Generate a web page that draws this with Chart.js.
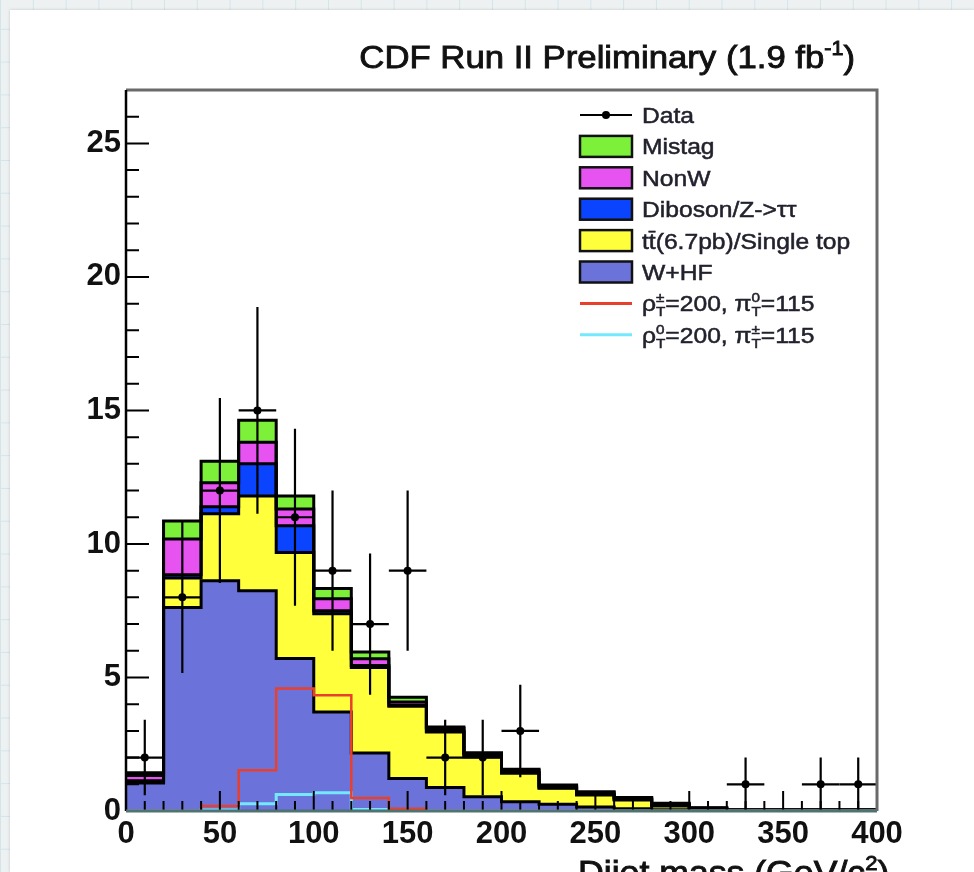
<!DOCTYPE html>
<html>
<head>
<meta charset="utf-8">
<script src="https://cdn.jsdelivr.net/npm/chart.js@4.4.0/dist/chart.umd.min.js"></script>
<style>
html, body { margin: 0; padding: 0; }
body {
    width: 974px; height: 872px; overflow: hidden; position: relative;
    background-color: #eef1f2;
    background-image: linear-gradient(#d2e5eb 1px, transparent 1px), linear-gradient(90deg, #d2e5eb 1px, transparent 1px);
    background-size: 32.8px 32.8px;
    background-position: 0 -4px;
}
#panel { position: absolute; left: 10px; top: 10px; right: 0; bottom: 0; background: #fff; box-shadow: 0 0 3px rgba(0,0,0,0.18); }
#grafico { position: absolute; left: 0; top: 0; }
</style>
</head>
<body>
<div id="panel"></div>
<canvas id="grafico" width="974" height="872"></canvas>
<script>
// bins of 20 GeV/c2, low edges
const binWidth = 20;
const binLow = [0, 20, 40, 60, 80, 100, 120, 140, 160, 180, 200, 220, 240, 260, 280, 300, 320, 340, 360, 380];

const dataCounts = [2, 8, 12, 15, 11, 9, 7, 9, 2, 2, 3, 0, 0, 0, 0, 0, 1, 0, 1, 1];

// stacked backgrounds, bottom to top
const wHF       = [1.05, 7.62, 8.62, 8.25, 5.71, 3.71, 2.17, 1.22, 0.88, 0.53, 0.35, 0.25, 0.15, 0.08, 0.05, 0.02, 0.01, 0.01, 0.01, 0.01];
const topSingle = [0.03, 1.11, 2.51, 3.55, 3.97, 3.68, 3.20, 2.70, 2.08, 1.50, 1.06, 0.60, 0.45, 0.33, 0.14, 0.05, 0.02, 0.02, 0.02, 0.02];
const diboson   = [0.05, 0.12, 0.26, 1.20, 1.00, 0.11, 0.08, 0.04, 0.03, 0.03, 0.03, 0.02, 0.02, 0.02, 0.02, 0.01, 0.00, 0.00, 0.00, 0.00];
const nonW      = [0.20, 1.34, 0.90, 0.81, 0.63, 0.45, 0.25, 0.12, 0.10, 0.08, 0.08, 0.06, 0.06, 0.05, 0.05, 0.03, 0.01, 0.01, 0.01, 0.01];
const mistag    = [0.10, 0.67, 0.81, 0.82, 0.49, 0.38, 0.25, 0.18, 0.06, 0.04, 0.04, 0.04, 0.04, 0.03, 0.03, 0.01, 0.01, 0.01, 0.01, 0.01];

// signal hypotheses (not stacked)
const sigRhoPm = [0, 0, 0.19, 1.53, 4.59, 4.33, 0.49, 0.08, 0, 0, 0, 0, 0, 0, 0, 0, 0, 0, 0, 0];
const sigRho0  = [0, 0, 0.04, 0.27, 0.62, 0.68, 0.06, 0.02, 0, 0, 0, 0, 0, 0, 0, 0, 0, 0, 0, 0];

const xTicks = [0, 50, 100, 150, 200, 250, 300, 350, 400];
const yTicks = [0, 5, 10, 15, 20, 25];

const capas = [wHF, topSingle, diboson, nonW, mistag];
const coloresCapas = ['#6b73db', '#ffff3c', '#0a44ff', '#e653f0', '#7df03a'];
const colorRojo = '#e8402c';
const colorCian = '#74e8ff';

const fuente = '"Liberation Sans", Arial, sans-serif';

function puntosEscalon(valores) {
    const pts = valores.map((v, i) => ({ x: binLow[i], y: v }));
    pts.push({ x: binLow[binLow.length - 1] + binWidth, y: valores[valores.length - 1] });
    return pts;
}

let acumulado = binLow.map(() => 0);
const acumulados = capas.map(capa => {
    acumulado = acumulado.map((a, i) => a + capa[i]);
    return acumulado;
});

// rich text: parts are {t, sup, sub}
function anchoRico(ctx, partes, size) {
    let w = 0;
    partes.forEach(p => {
        if (p.t) {
            ctx.font = `${size}px ${fuente}`;
            w += ctx.measureText(p.t).width;
        }
        if (p.sup || p.sub) {
            ctx.font = `${size * 0.62}px ${fuente}`;
            w += Math.max(ctx.measureText(p.sup || '').width, ctx.measureText(p.sub || '').width);
        }
    });
    return w;
}

function textoRico(ctx, partes, x, y, size, estirar, alinear, grosor) {
    ctx.save();
    ctx.translate(x, y);
    ctx.scale(estirar, 1);
    let cx = alinear === 'right' ? -anchoRico(ctx, partes, size) : 0;
    ctx.textBaseline = 'alphabetic';
    ctx.textAlign = 'left';
    ctx.strokeStyle = ctx.fillStyle;
    ctx.lineWidth = grosor;
    const pinta = (t, px, py) => {
        ctx.fillText(t, px, py);
        if (grosor > 0) ctx.strokeText(t, px, py);
    };
    partes.forEach(p => {
        if (p.t) {
            ctx.font = `${size}px ${fuente}`;
            pinta(p.t, cx, 0);
            cx += ctx.measureText(p.t).width;
        }
        if (p.sup || p.sub) {
            ctx.font = `${size * 0.62}px ${fuente}`;
            let w = 0;
            if (p.sup) { pinta(p.sup, cx, -size * 0.42); w = ctx.measureText(p.sup).width; }
            if (p.sub) { pinta(p.sub, cx, size * 0.22); w = Math.max(w, ctx.measureText(p.sub).width); }
            cx += w;
        }
    });
    ctx.restore();
}

const tituloPartes = [{ t: 'CDF Run II Preliminary (1.9 fb', sup: '-1' }, { t: ')' }];
const ejeXPartes = [{ t: 'Dijet mass (GeV/c', sup: '2' }, { t: ')' }];

const leyendaTextos = [
    [{ t: 'Data' }],
    [{ t: 'Mistag' }],
    [{ t: 'NonW' }],
    [{ t: 'Diboson/Z->\u03c4\u03c4' }],
    [{ t: 't' }, { t: 't\u0304(6.7pb)/Single top' }],
    [{ t: 'W+HF' }],
    [{ t: '\u03c1', sup: '\u00b1', sub: 'T' }, { t: '=200, \u03c0', sup: '0', sub: 'T' }, { t: '=115' }],
    [{ t: '\u03c1', sup: '0', sub: 'T' }, { t: '=200, \u03c0', sup: '\u00b1', sub: 'T' }, { t: '=115' }]
];
const leyendaTipos = ['data', 4, 3, 2, 1, 0, 'rojo', 'cian'];

const decoracion = {
    id: 'decoracion',
    afterDatasetsDraw(chart) {
        const { ctx, chartArea: a, scales: { x, y } } = chart;
        ctx.save();
        // error bars of data
        ctx.strokeStyle = '#000';
        ctx.lineWidth = 2.2;
        dataCounts.forEach((n, i) => {
            if (!n) return;
            const x0 = x.getPixelForValue(binLow[i]);
            const x1 = x.getPixelForValue(binLow[i] + binWidth);
            const xc = x.getPixelForValue(binLow[i] + binWidth / 2);
            const yc = y.getPixelForValue(n);
            const e = Math.sqrt(n);
            ctx.beginPath();
            ctx.moveTo(x0, yc); ctx.lineTo(x1, yc);
            ctx.moveTo(xc, y.getPixelForValue(n + e)); ctx.lineTo(xc, y.getPixelForValue(n - e));
            ctx.stroke();
        });
        // inward ticks
        ctx.lineWidth = 2;
        ctx.beginPath();
        for (let v = 0; v <= 400; v += 10) {
            const px = x.getPixelForValue(v);
            const largo = v % 50 === 0 ? 20 : 10;
            ctx.moveTo(px, a.bottom); ctx.lineTo(px, a.bottom - largo);
        }
        for (let v = 0; v <= 27; v += 1) {
            const py = y.getPixelForValue(v);
            const largo = v % 5 === 0 ? 23 : 13;
            ctx.moveTo(a.left, py); ctx.lineTo(a.left + largo, py);
        }
        ctx.stroke();
        // frame
        ctx.strokeStyle = '#6a6a6a';
        ctx.lineWidth = 3;
        ctx.beginPath();
        ctx.moveTo(a.left, a.top); ctx.lineTo(a.right, a.top); ctx.lineTo(a.right, a.bottom);
        ctx.stroke();
        ctx.strokeStyle = '#000';
        ctx.lineWidth = 2.5;
        ctx.beginPath();
        ctx.moveTo(a.left, a.top); ctx.lineTo(a.left, a.bottom);
        ctx.stroke();
        ctx.strokeStyle = '#4f7272';
        ctx.lineWidth = 3;
        ctx.beginPath();
        ctx.moveTo(a.left, a.bottom); ctx.lineTo(a.right, a.bottom);
        ctx.stroke();
        ctx.restore();
    },
    afterDraw(chart) {
        const { ctx } = chart;
        ctx.save();
        ctx.fillStyle = '#111';
        textoRico(ctx, tituloPartes, 855, 68, 32, 1.085, 'right', 0.9);
        textoRico(ctx, ejeXPartes, 578, 884, 33, 1.08, 'left', 0.9);

        // legend
        const filaY = 115, paso = 31.4;
        leyendaTipos.forEach((tipo, k) => {
            const cy = filaY + k * paso;
            if (tipo === 'data') {
                ctx.strokeStyle = '#000'; ctx.lineWidth = 2;
                ctx.beginPath(); ctx.moveTo(580, cy); ctx.lineTo(632, cy); ctx.stroke();
                ctx.fillStyle = '#000';
                ctx.beginPath(); ctx.arc(606, cy, 4, 0, Math.PI * 2); ctx.fill();
            } else if (tipo === 'rojo' || tipo === 'cian') {
                ctx.strokeStyle = tipo === 'rojo' ? colorRojo : colorCian; ctx.lineWidth = 3;
                ctx.beginPath(); ctx.moveTo(580, cy); ctx.lineTo(632, cy); ctx.stroke();
            } else {
                ctx.fillStyle = coloresCapas[tipo];
                ctx.fillRect(580, cy - 10.5, 52, 21);
                ctx.strokeStyle = '#111'; ctx.lineWidth = 2.5;
                ctx.strokeRect(580, cy - 10.5, 52, 21);
            }
            ctx.fillStyle = '#22222e';
            textoRico(ctx, leyendaTextos[k], 642, cy + 8, 22, 1.12, 'left', 0.5);
        });
        ctx.restore();
    }
};

const datasets = [];
capas.forEach((capa, k) => {
    datasets.push({
        type: 'line',
        data: puntosEscalon(acumulados[k]),
        stepped: 'before',
        fill: k === 0 ? 'origin' : '-1',
        backgroundColor: coloresCapas[k],
        borderColor: '#000',
        borderWidth: 3,
        pointRadius: 0,
        order: 2
    });
});
datasets.push({
    type: 'line', data: puntosEscalon(sigRhoPm), stepped: 'before', fill: false,
    borderColor: colorRojo, borderWidth: 2.5, pointRadius: 0, order: 1
});
datasets.push({
    type: 'line', data: puntosEscalon(sigRho0), stepped: 'before', fill: false,
    borderColor: colorCian, borderWidth: 3, pointRadius: 0, order: 1
});
datasets.push({
    type: 'scatter',
    data: dataCounts.map((n, i) => ({ x: binLow[i] + binWidth / 2, y: n > 0 ? n : null })),
    pointRadius: 4, pointBackgroundColor: '#000', pointBorderWidth: 0, showLine: false, order: 0
});

const ctx = document.getElementById('grafico').getContext('2d');
new Chart(ctx, {
    type: 'line',
    data: { datasets: datasets },
    plugins: [decoracion],
    options: {
        responsive: false,
        animation: false,
        devicePixelRatio: 1,
        layout: { padding: { left: 0, top: 90, right: 97, bottom: 0 } },
        plugins: {
            legend: { display: false },
            tooltip: { enabled: false },
            filler: { drawTime: 'beforeDatasetsDraw' }
        },
        scales: {
            x: {
                type: 'linear', min: 0, max: 400,
                afterBuildTicks: s => { s.ticks = xTicks.map(v => ({ value: v })); },
                afterFit: s => { s.height = 61; },
                grid: { display: false, drawTicks: false },
                border: { display: false },
                ticks: { color: '#111', padding: 5, maxRotation: 0, autoSkip: false, font: { family: fuente, size: 31, weight: 'bold' } }
            },
            y: {
                type: 'linear', min: 0, max: 27,
                afterBuildTicks: s => { s.ticks = yTicks.map(v => ({ value: v })); },
                afterFit: s => { s.width = 126; },
                grid: { display: false, drawTicks: false },
                border: { display: false },
                ticks: { color: '#111', padding: 5, font: { family: fuente, size: 31, weight: 'bold' } }
            }
        }
    }
});
</script>
</body>
</html>
